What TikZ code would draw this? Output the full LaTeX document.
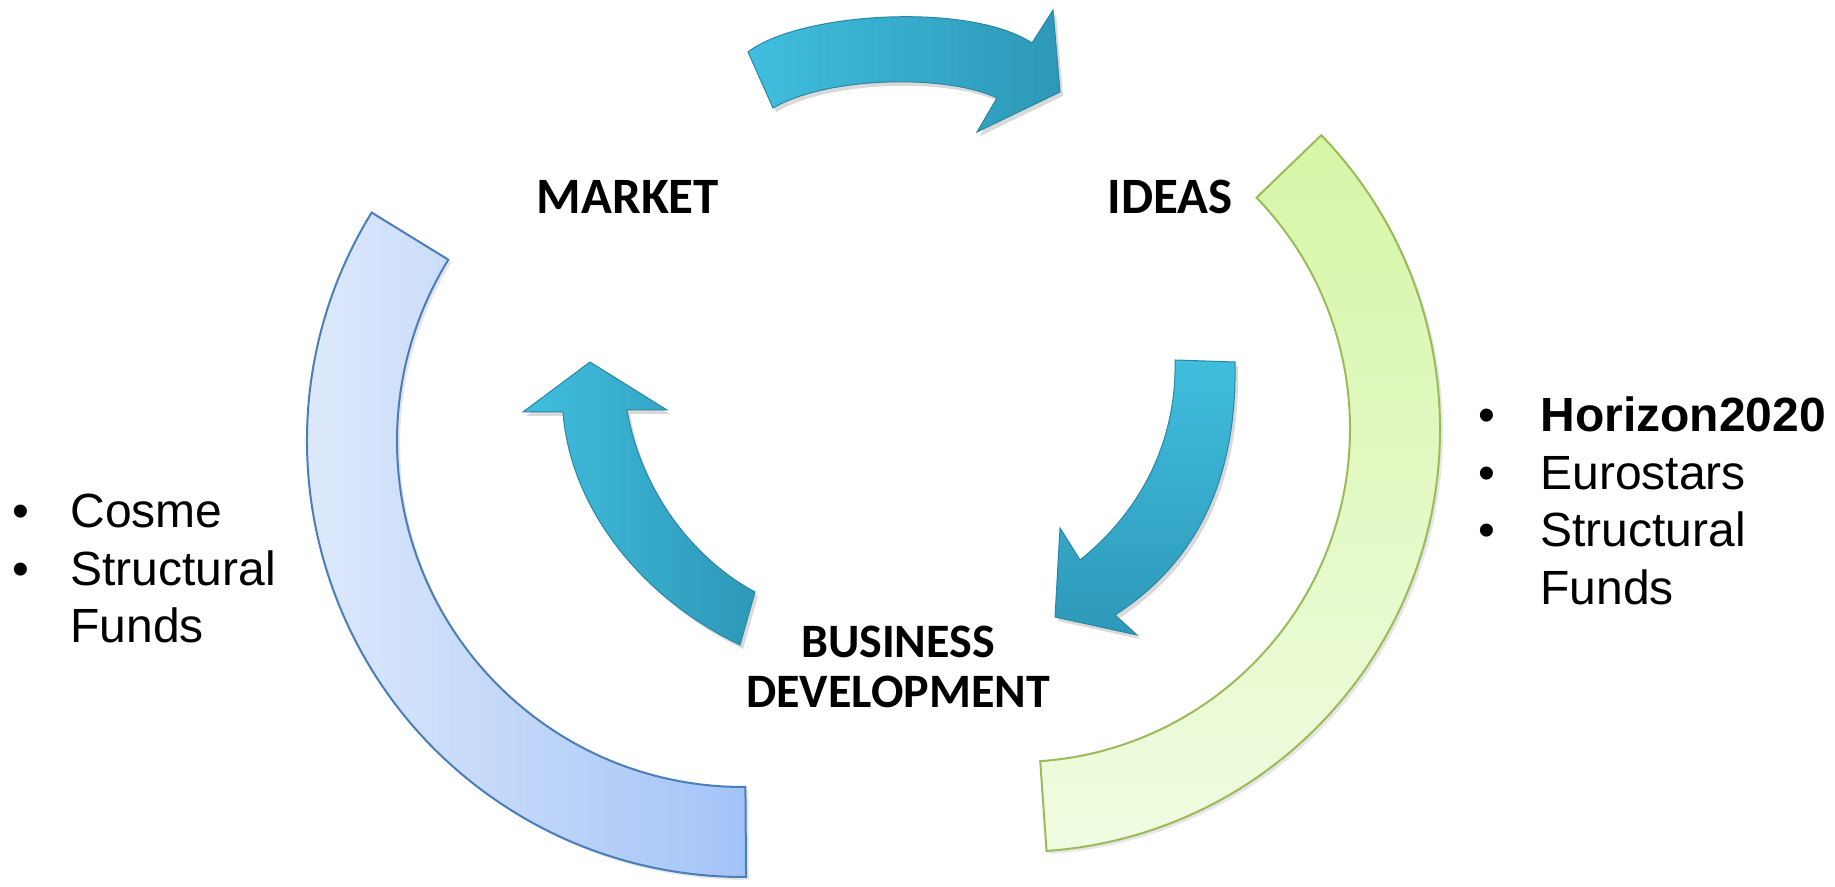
\documentclass[tikz,border=0pt]{standalone}
\usepackage{fontspec}
\setmainfont{Liberation Sans}
\newfontfamily\calibfont{Carlito}
\usetikzlibrary{shadows}
\definecolor{cosmeedge}{RGB}{74,126,187}
\definecolor{cosmelight}{RGB}{230,238,252}
\definecolor{cosmedark}{RGB}{163,195,247}
\definecolor{horizonedge}{RGB}{155,187,89}
\definecolor{horizondark}{RGB}{214,246,166}
\definecolor{horizonlight}{RGB}{240,252,226}
\definecolor{turnlight}{RGB}{64,190,222}
\definecolor{turndark}{RGB}{46,152,184}
\definecolor{turnedge}{RGB}{40,135,165}

\begin{document}
\begin{tikzpicture}[x=0.5pt,y=0.5pt,
  band/.style={line width=1pt, drop shadow={opacity=0.2,shadow xshift=1.5pt,shadow yshift=-1.5pt}},
  turn/.style={draw=turnedge, line width=0.5pt, drop shadow={opacity=0.3,shadow xshift=1.5pt,shadow yshift=-2pt}},
  stage/.style={font=\calibfont\bfseries\fontsize{25.5}{30}\selectfont, inner sep=0pt, anchor=base},
  substage/.style={stage, font=\calibfont\bfseries\fontsize{24}{28}\selectfont},
  funds/.style={font=\fontsize{24}{28.75}\selectfont, inner sep=0pt, anchor=base west}]
\useasboundingbox (0,0) rectangle (1835,887);

\path[band, draw=cosmeedge, left color=cosmelight, right color=cosmedark]
  ([shift={(743,446)}]148.4:436) arc[start angle=148.4, end angle=270.4, radius=436]
  -- ([shift={(743,446)}]270.4:346) arc[start angle=270.4, end angle=148.4, radius=346] -- cycle;
\path[band, draw=horizonedge, top color=horizondark, bottom color=horizonlight]
  ([shift={(1017,458)}]-86:423) arc[start angle=-86, end angle=44, radius=423]
  -- ([shift={(1017,458)}]44:333) arc[start angle=44, end angle=-86, radius=333] -- cycle;

\path[turn, left color=turnlight, right color=turndark]
  (748,835) .. controls (800,875) and (970,885) .. (1032,844) -- (1053,877) -- (1060,795)
  -- (977,755) -- (997,789) .. controls (950,812) and (830,812) .. (773,779) -- cycle;
\path[turn, top color=turnlight, bottom color=turndark]
  (1175,527) -- (1235,525) .. controls (1237,420) and (1205,330) .. (1115,272) -- (1137,252)
  -- (1055,270) -- (1060,359) -- (1080,327) .. controls (1140,375) and (1177,445) .. cycle;
\path[turn, left color=turnlight, right color=turndark]
  (590,525) -- (667,477) -- (627,477) .. controls (640,400) and (690,330) .. (755,295)
  -- (740,242) .. controls (640,290) and (570,380) .. (563,475) -- (523,475) -- cycle;

\node[stage] (market) at (628,673) {MARKET};
\node[stage] (ideas) at (1170,673) {IDEAS};
\node[substage] (business) at (898,229.5) {BUSINESS};
\node[substage] (development) at (898,179.5) {DEVELOPMENT};

\node[funds] (cosme) at (12,359) {\begin{tabular}[t]{@{}p{29pt}@{}l@{}}
  • & Cosme\\ • & Structural\\ & Funds\end{tabular}};
\node[funds] (horizon) at (1478,455) {\begin{tabular}[t]{@{}p{31pt}@{}l@{}}
  • & \textbf{Horizon2020}\\ • & Eurostars\\ • & Structural\\ & Funds\end{tabular}};
\end{tikzpicture}
\end{document}
